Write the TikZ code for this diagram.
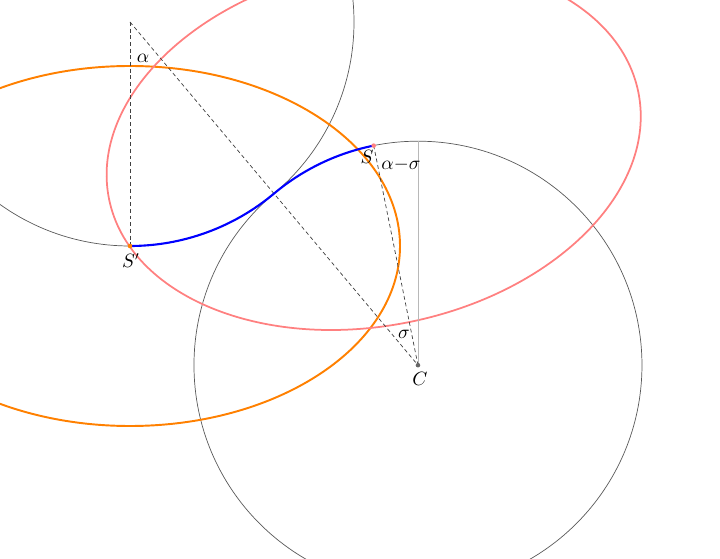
\documentclass[tikz,border=0pt]{standalone}
\usetikzlibrary{calc}
\definecolor{orng}{rgb}{1,0.5,0}
\definecolor{pnk}{rgb}{1,0.5,0.5}
\definecolor{circgray}{gray}{0.35}
\definecolor{vgray}{gray}{0.72}
\begin{document}
\begin{tikzpicture}[x=0.02cm,y=0.02cm,
  circ/.style={draw=circgray,line width=0.4pt},
  dashline/.style={draw=black!75,line width=0.4pt,dash pattern=on 2.2pt off 1.6pt},
  lbl/.style={inner sep=0pt,font=\fontsize{10.5}{12}\selectfont},
  dot/.style={circle,inner sep=0pt,minimum size=2.6pt}]
\clip (0,0) rectangle (720,558);
\pgfmathsetmacro{\R}{224}
\pgfmathsetmacro{\al}{40}
\pgfmathsetmacro{\sg}{11.4}
\coordinate (O1) at (130,536);
\coordinate (C) at ($(O1)+({2*\R*sin(\al)},{-2*\R*cos(\al)})$);
\coordinate (Sp) at ($(O1)+(0,-\R)$);
\coordinate (S) at ($(C)+({-\R*sin(\sg)},{\R*cos(\sg)})$);
\coordinate (Ctop) at ($(C)+(0,\R)$);
% circles
\draw[circ] (O1) circle[radius=\R];
\draw[circ] (C) circle[radius=\R];
% ellipses
\draw[orng,line width=1.1pt] (Sp) ellipse[x radius=270,y radius=180];
\draw[pnk,line width=1pt,rotate around={\sg:(S)}] (S) ellipse[x radius=270,y radius=180];
% vertical gray line
\draw[vgray,line width=0.5pt] (C) -- (Ctop);
% dashed lines
\draw[dashline] (O1) -- (Sp);
\draw[dashline] (O1) -- (C);
\draw[dashline] (C) -- (S);
% blue path
\draw[blue,line width=1.2pt] (Sp) arc[start angle=270,end angle={270+\al},radius=\R]
  arc[start angle={90+\al},end angle={90+\sg},radius=\R];
% dots
\node[dot,fill=orng] (dSp) at (Sp) {};
\node[dot,fill=pnk] (dS) at (S) {};
\node[dot,fill=black!60] (dC) at (C) {};
% labels
\node[lbl] (la) at (143,500) {$\alpha$};
\node[lbl] (lSp) at (131,297) {$S'$};
\node[lbl] (lS) at (367,401) {$S$};
\node[lbl] (las) at (401,393) {$\alpha{-}\sigma$};
\node[lbl] (ls) at (404,224) {$\sigma$};
\node[lbl] (lC) at (420,179) {$C$};
\end{tikzpicture}
\end{document}
